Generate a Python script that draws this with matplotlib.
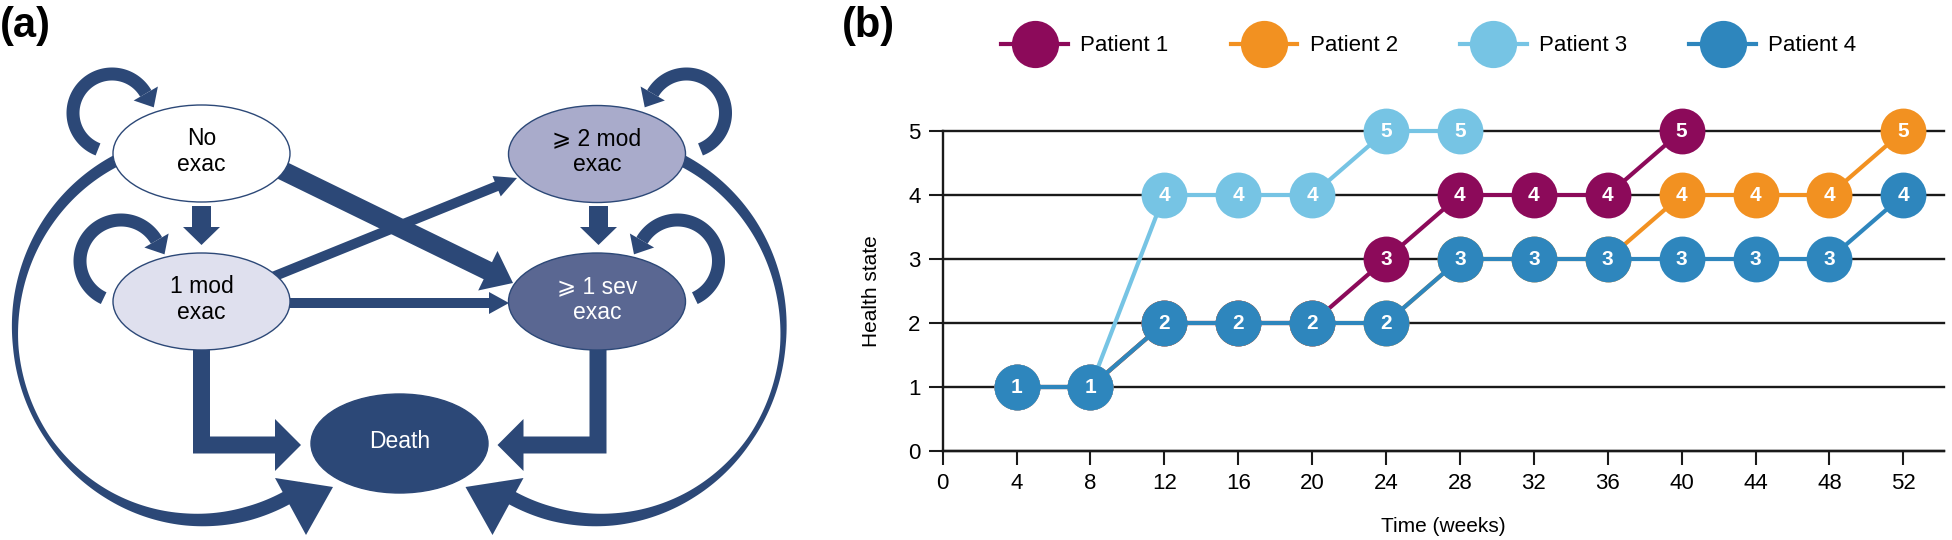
import numpy as np
import matplotlib
matplotlib.use('Agg')
import matplotlib.pyplot as plt
from matplotlib.patches import Ellipse, Polygon, FancyArrow
from matplotlib.lines import Line2D

plt.rcParams['font.family'] = ['Liberation Sans', 'DejaVu Sans']

# ---- panel (b) data ----
weeks = [4, 8, 12, 16, 20, 24, 28, 32, 36, 40, 44, 48, 52]
patient_names = ['Patient 1', 'Patient 2', 'Patient 3', 'Patient 4']
patient_colors = ['#8c0a5a', '#f29121', '#76c4e4', '#2e86bd']
state_p1 = [1, 1, 2, 2, 2, 3, 4, 4, 4, 5]
state_p2 = [1, 1, 2, 2, 2, 2, 3, 3, 3, 4, 4, 4, 5]
state_p3 = [1, 1, 4, 4, 4, 5, 5]
state_p4 = [1, 1, 2, 2, 2, 2, 3, 3, 3, 3, 3, 3, 4]
x_ticks = list(range(0, 53, 4))
y_ticks = [0, 1, 2, 3, 4, 5]

# ---- panel (a) states, layout in pixel units ----
node_keys = ['none', 'mod1', 'mod2', 'sev', 'death']
node_labels = ['No\nexac', '1 mod\nexac', '\u2a7e 2 mod\nexac', '\u2a7e 1 sev\nexac', 'Death']
node_fill = ['white', '#dfe0ee', '#a9abcb', '#5a6792', '#2c4877']
node_textcol = ['black', 'black', 'black', 'white', 'white']
node_xy = {'none': (201.5, 153.5), 'mod1': (201.5, 301.5), 'mod2': (597, 154),
           'sev': (597, 301.5), 'death': (399.5, 443.5)}
EW, EH = 177, 97
NAVY = '#2c4877'
XM = 399.25  # mirror axis of the diagram

fig = plt.figure(figsize=(19.52, 5.40), dpi=100)


def mirror(pts):
    pts = np.array(pts, dtype=float)
    pts[:, 0] = 2 * XM - pts[:, 0]
    return pts


def band(cx, cy, rx, ry, t0, t1, w_ang, w_val, n=160):
    t = np.linspace(t0, t1, n)
    tr = np.radians(t)
    x = cx + rx * np.cos(tr)
    y = cy + ry * np.sin(tr)
    dx, dy = np.gradient(x), np.gradient(y)
    L = np.hypot(dx, dy)
    nx, ny = -dy / L, dx / L
    w = np.interp(t, w_ang, w_val)
    outer = np.column_stack([x + nx * w / 2, y + ny * w / 2])
    inner = np.column_stack([x - nx * w / 2, y - ny * w / 2])
    return np.vstack([outer, inner[::-1]])


def loop_arrow(ax, cx, cy, r, t0, t1, w, hw, hl, flip=False):
    body = band(cx, cy, r, r, t0, t1, [0, 360], [w, w])
    tt = np.radians(t1)
    bx, by = cx + r * np.cos(tt), cy + r * np.sin(tt)
    ux, uy = np.cos(tt), np.sin(tt)
    dx, dy = -np.sin(tt), np.cos(tt)
    head = [(bx + ux * hw / 2, by + uy * hw / 2), (bx + dx * hl, by + dy * hl),
            (bx - ux * hw / 2, by - uy * hw / 2)]
    for shape in (body, head):
        pts = mirror(shape) if flip else np.array(shape)
        ax.add_patch(Polygon(pts, closed=True, fc=NAVY, ec='none', zorder=2))


def straight(ax, p0, p1, w, hw, hl):
    (x0, y0), (x1, y1) = p0, p1
    ax.add_patch(FancyArrow(x0, y0, x1 - x0, y1 - y0, width=w, head_width=hw,
                            head_length=hl, length_includes_head=True,
                            fc=NAVY, ec='none', zorder=2))


def elbow(ax, x, y_top, y_mid, x_base, x_tip, w, hw):
    s = np.sign(x_tip - x)
    pts = [(x - s * w / 2, y_top), (x + s * w / 2, y_top), (x + s * w / 2, y_mid - w / 2),
           (x_base, y_mid - w / 2), (x_base, y_mid - hw / 2), (x_tip, y_mid),
           (x_base, y_mid + hw / 2), (x_base, y_mid + w / 2), (x - s * w / 2, y_mid + w / 2)]
    ax.add_patch(Polygon(pts, closed=True, fc=NAVY, ec='none', zorder=2))


# ================= (a) Markov model diagram =================
ax_a = fig.add_axes([0, 0, 800 / 1952, 1])
ax_a.set_xlim(0, 800)
ax_a.set_ylim(540, 0)
ax_a.axis('off')

nx_, ny_ = node_xy['none']
mx_, my_ = node_xy['mod1']
sx_, sy_ = node_xy['sev']
m2x, m2y = node_xy['mod2']
dx_, dy_ = node_xy['death']

# self loops (left side, mirrored to right side)
for flip in (False, True):
    loop_arrow(ax_a, 112, 113, 39, 111, 330, 13, 28, 16, flip=flip)
    loop_arrow(ax_a, 121, 261, 41, 115, 330, 13, 28, 16, flip=flip)

# big outer arcs to death
w_ang = [56, 75, 95, 120, 145, 175, 190, 215, 246]
w_val = [14, 14, 12, 8, 5, 5.5, 7.5, 10, 12]
arc = band(200, 330, 185, 190, 246, 56, w_ang, w_val)
tri = np.array([(-124.5, 34.5), (-66.5, 43.5), (-93.5, 91.5)]) + np.array([dx_, dy_])
for shape in (arc, tri):
    for flip in (False, True):
        pts = mirror(shape) if flip else shape
        ax_a.add_patch(Polygon(pts, closed=True, fc=NAVY, ec='none', zorder=2))

# straight transitions
straight(ax_a, (nx_, 206), (nx_, 245), 19, 37, 18)
straight(ax_a, (m2x + 1.5, 206), (m2x + 1.5, 245), 19, 37, 18)
straight(ax_a, (280, 303), (509, 303), 10, 22, 20)
straight(ax_a, (265, 280), (517, 178), 10, 22, 22)
straight(ax_a, (265, 162), (513, 283), 19, 44, 28)

# to death
elbow(ax_a, mx_, my_, 445, 275, 301, 17, 52)
elbow(ax_a, sx_ + 1, sy_, 445, 2 * XM - 275, 2 * XM - 301, 17, 52)

for key, lab, fc, tc in zip(node_keys, node_labels, node_fill, node_textcol):
    cx, cy = node_xy[key]
    ax_a.add_patch(Ellipse((cx, cy), EW, EH + (2 if key == 'death' else 0), fc=fc,
                           ec=NAVY, lw=1.0, zorder=5))
    ax_a.text(cx, cy - 2, lab, ha='center', va='center', fontsize=16.5, color=tc,
              linespacing=1.15, zorder=6)

# ================= (b) patient trajectories =================
ax = fig.add_axes([0.4829, 0.1648, 0.5130, 0.5926])
series = [state_p1, state_p2, state_p3, state_p4]
for i, (states, c) in enumerate(zip(series, patient_colors)):
    x = weeks[:len(states)]
    z = 3 + i
    ax.plot(x, states, color=c, lw=3, marker='o', ms=33, mec=c, mew=0,
            zorder=z, clip_on=False)
    for xi, s in zip(x, states):
        ax.text(xi, s, str(s), color='white', fontsize=15, fontweight='bold',
                ha='center', va='center', zorder=z + 0.5)

ax.set_xlim(0, 54.2)
ax.set_ylim(0, 5)
ax.set_xticks(x_ticks)
ax.set_yticks(y_ticks)
ax.tick_params(direction='out', length=10, width=1.5, labelsize=16, pad=6, color='#1a1a1a')
ax.grid(axis='y', color='#1a1a1a', lw=1.7)
for gl in ax.get_ygridlines():
    gl.set_clip_on(False)
ax.set_axisbelow(True)
for side in ('top', 'right'):
    ax.spines[side].set_visible(False)
for side in ('left', 'bottom'):
    ax.spines[side].set_linewidth(1.7)
    ax.spines[side].set_color('#1a1a1a')
ax.set_xlabel('Time (weeks)', fontsize=15)
ax.set_ylabel('Health state', fontsize=15)
ax.xaxis.set_label_coords(0.5, -0.206)
ax.yaxis.set_label_coords(-0.0615, 0.5)

handles = [Line2D([], [], color=c, lw=3, marker='o', ms=34, mec=c, mew=0)
           for c in patient_colors]
fig.legend(handles, patient_names, loc='center', bbox_to_anchor=(0.732, 0.915),
           ncol=4, frameon=False, fontsize=16, handlelength=3.0, handletextpad=0.55,
           columnspacing=2.8, borderpad=0)

fig.text(0.0, 1 - 6 / 540, '(a)', fontsize=30, fontweight='bold', va='top', ha='left')
fig.text(842 / 1952, 1 - 6 / 540, '(b)', fontsize=30, fontweight='bold', va='top', ha='left')

fig.savefig('out.png', dpi=100)
